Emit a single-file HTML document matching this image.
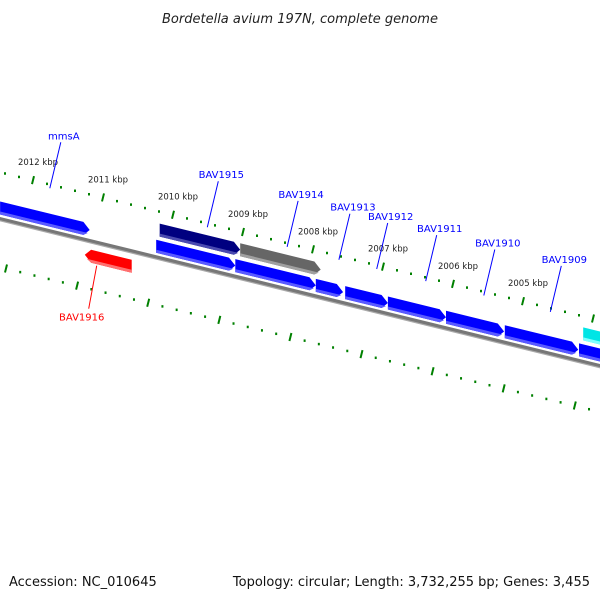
<!DOCTYPE html>
<html><head><meta charset="utf-8"><style>
html,body{margin:0;padding:0;background:#fff;}
svg{display:block;font-family:"DejaVu Sans","Liberation Sans",sans-serif;}
</style></head><body>
<svg id="map" width="600" height="600" viewBox="0 0 600 600">
<text x="300" y="23" text-anchor="middle" font-size="13" font-style="italic" fill="#222">Bordetella avium 197N, complete genome</text>
<text x="9" y="586" font-size="13" fill="#111">Accession: NC_010645</text>
<text x="590" y="586" text-anchor="end" font-size="13" fill="#111">Topology: circular; Length: 3,732,255 bp; Genes: 3,455</text>
<g id="layer"></g>
</svg>
<script>
// Gene data (kbp)
var geneStarts = [2012.47, 2010.19, 2009.04, 2010.24, 2009.11, 2007.96, 2007.54, 2006.93, 2006.10, 2005.26, 2004.20, 2004.14, 2011.26];
var geneEnds   = [2011.19, 2009.04, 2007.89, 2009.11, 2007.96, 2007.57, 2006.93, 2006.10, 2005.27, 2004.21, 2003.60, 2003.60, 2010.59];
var geneRows   = ["inner","outer","outer","inner","inner","inner","inner","inner","inner","inner","inner","outer","reverse"];
var geneColors = ["#0000ff","#000080","#666666","#0000ff","#0000ff","#0000ff","#0000ff","#0000ff","#0000ff","#0000ff","#0000ff","#00e5e5","#ff0000"];
var tickKbp = [2012, 2011, 2010, 2009, 2008, 2007, 2006, 2005];
var tickLabels = ["2012 kbp","2011 kbp","2010 kbp","2009 kbp","2008 kbp","2007 kbp","2006 kbp","2005 kbp"];
var geneLabels = ["mmsA","BAV1915","BAV1914","BAV1913","BAV1912","BAV1911","BAV1910","BAV1909","BAV1916"];
var labelKbp   = [2011.76, 2009.51, 2008.37, 2007.63, 2007.09, 2006.39, 2005.56, 2004.61, 2011.09];
var labelSide  = ["up","up","up","up","up","up","up","up","down"];

var NS="http://www.w3.org/2000/svg";
var layer=document.getElementById('layer');
var slope=0.245;
function xOf(k){return 33+(2012-k)*70.0;}
function P(k,off){var x=xOf(k);return [x, 219+slope*x+off];}
function mk(t,a){var e=document.createElementNS(NS,t);for(var n in a)e.setAttribute(n,a[n]);layer.appendChild(e);return e;}
function poly(pts){return pts.map(function(p){return p[0].toFixed(1)+','+p[1].toFixed(1);}).join(' ');}
function lighten(col){return {"#0000ff":"#5a5aff","#000080":"#4a4ab0","#666666":"#a0a0a0","#00e5e5":"#80ffff","#ff0000":"#ff7070"}[col]||col;}

// backbone
var b1=P(2013,0),b2=P(2003,0);
var bb=mk('line',{x1:b1[0],y1:b1[1],x2:b2[0],y2:b2[1],stroke:'#777','stroke-width':4});


var b3=P(2013,1.8),b4=P(2003,1.8);
var bs=mk('line',{x1:b3[0],y1:b3[1],x2:b4[0],y2:b4[1],stroke:'#aaa','stroke-width':1.2});



function ticks(kx, base, name){
  for(var k=2013.4;k>=2003.4;k-=0.2){
    var kk=Math.round(k*10)/10;
    var major=Math.abs(kk-Math.round(kk))<0.01;
    var x=kx(kk); var y=base(x);
    var e;
    if(major){e=mk('line',{x1:x+1,y1:y-4,x2:x-1,y2:y+4,stroke:'#008000','stroke-width':2});}
    else{e=mk('rect',{x:x-1,y:y-1,width:2,height:2.5,fill:'#008000'});}
    
    
  }
}
ticks(xOf,function(x){return 172+0.247*x;},'outer-ring');
ticks(function(k){return 6+(2012-k)*71.1;},function(x){return 267+0.241*x;},'inner-ring');
for(var i=0;i<tickKbp.length;i++){
  var x=xOf(tickKbp[i]);var y=172+0.247*x;
  var t=mk('text',{x:x+5,y:y-15,'font-size':8.5,'text-anchor':'middle',fill:'#222'});
  t.textContent=tickLabels[i];
  
  
}

// genes
var rowOff={inner:-11,outer:-28,reverse:15};
for(var g=0;g<geneStarts.length;g++){
  var a=geneStarts[g],b=geneEnds[g],o=rowOff[geneRows[g]],h=6.5;
  var fwd=geneRows[g]!=="reverse";
  var head=0.09;
  var pts;
  if(fwd){pts=[P(a,o-h),P(b+head,o-h),P(b,o),P(b+head,o+h),P(a,o+h)];}
  else{pts=[P(b,o-h),P(a-head,o-h),P(a,o),P(a-head,o+h),P(b,o+h)];}
  var e=mk('polygon',{points:poly(pts),fill:geneColors[g]});
  
  
  var sp;
  if(fwd){sp=[P(a,o+h-3),P(b+head*0.3,o+h-3),P(b+head,o+h),P(a,o+h)];}
  else{sp=[P(b,o+h-3),P(a-head*0.3,o+h-3),P(a-head,o+h),P(b,o+h)];}
  var e2=mk('polygon',{points:poly(sp),fill:lighten(geneColors[g])});
  
  
}

// gene labels
for(var l=0;l<geneLabels.length;l++){
  var up=labelSide[l]==="up";
  var x=xOf(labelKbp[l]);
  var p1,p2,lx,ly;
  if(up){var yb=172+0.247*x+4;p2=[x,yb];p1=[x+11,yb-46];lx=p1[0]+3;ly=p1[1]-3;}
  else{var yt=219+slope*x+23;p1=[x,yt];p2=[x-8,yt+43];lx=p2[0]-7;ly=p2[1]+12;}
  var col=up?'#0000ff':'#ff0000';
  var ln=mk('line',{x1:p1[0],y1:p1[1],x2:p2[0],y2:p2[1],stroke:col,'stroke-width':1});
  
  
  var t=mk('text',{x:lx,y:ly,'font-size':10,'text-anchor':'middle',fill:col});
  t.textContent=geneLabels[l];
  
  
}
</script>
</body></html>
